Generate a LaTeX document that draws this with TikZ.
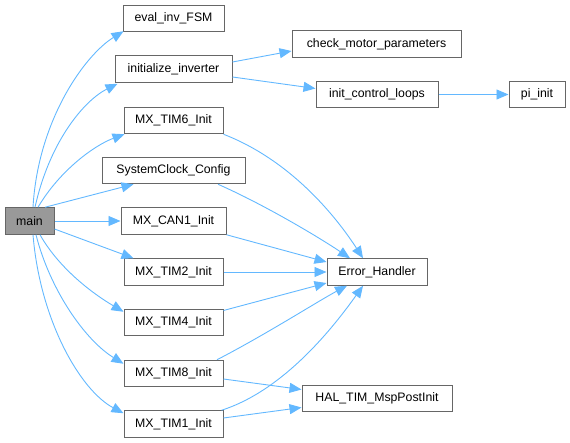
\documentclass[tikz,border=0pt]{standalone}
\usepackage{fontspec}
\setmainfont{Liberation Sans}
\usetikzlibrary{arrows.meta}
\definecolor{edgec}{HTML}{63B8FF}
\definecolor{boxline}{HTML}{666666}
\definecolor{mainfill}{HTML}{999999}
\begin{document}
\begin{tikzpicture}[x=1pt,y=-1pt,
  fn/.style={draw=boxline, line width=1pt, fill=white, minimum height=26.5pt, inner sep=0pt, font=\fontsize{12.3}{14}\selectfont, text=black},
  mainbox/.style={fn, fill=mainfill},
  call/.style={draw=edgec, line width=0.9pt, -{Triangle[length=12pt,width=10pt]}, fill=none},
]
\useasboundingbox (0,0) rectangle (570,443);
\node[mainbox, minimum width=49pt] (main) at (29.5,221) {main};
\node[fn, minimum width=101pt] (eval) at (173.5,18.5) {eval\_inv\_FSM};
\node[fn, minimum width=117pt] (initinv) at (173.5,69) {initialize\_inverter};
\node[fn, minimum width=99pt] (tim6) at (173.5,120.5) {MX\_TIM6\_Init};
\node[fn, minimum width=143pt] (sysclk) at (173.5,170.5) {SystemClock\_Config};
\node[fn, minimum width=105pt] (can1) at (173.5,221) {MX\_CAN1\_Init};
\node[fn, minimum width=99pt] (tim2) at (173.5,272) {MX\_TIM2\_Init};
\node[fn, minimum width=99pt] (tim4) at (173.5,322.5) {MX\_TIM4\_Init};
\node[fn, minimum width=99pt] (tim8) at (173.5,373.5) {MX\_TIM8\_Init};
\node[fn, minimum width=99pt] (tim1) at (173.5,424) {MX\_TIM1\_Init};
\node[fn, minimum width=169pt] (check) at (376.5,44) {check\_motor\_parameters};
\node[fn, minimum width=122pt] (icl) at (377,94.5) {init\_control\_loops};
\node[fn, minimum width=56pt] (pi) at (537,94.5) {pi\_init};
\node[fn, minimum width=100pt] (err) at (377,272) {Error\_Handler};
\node[fn, minimum width=150pt] (hal) at (377,398.5) {HAL\_TIM\_MspPostInit};

% main calls
\draw[call] ([xshift=3.5pt]main.north) .. controls (38,120) and (85,55) .. ([xshift=1pt,yshift=1pt]eval.south west);
\draw[call] ([xshift=5.5pt]main.north) .. controls (50,140) and (85,100) .. ([xshift=3pt,yshift=-1pt]initinv.south west);
\draw[call] ([xshift=8.5pt]main.north) .. controls (60,170) and (95,145) .. ([xshift=1pt]tim6.south west);
\draw[call] ([xshift=15.5pt]main.north) -- ([xshift=-40pt]sysclk.south);
\draw[call] (main.east) -- (can1.west);
\draw[call] ([yshift=-8pt]main.east) -- ([xshift=-40pt]tim2.north);
\draw[call] ([xshift=10.5pt]main.south) .. controls (60,270) and (95,295) .. ([yshift=-3pt]tim4.north west);
\draw[call] ([xshift=6.5pt]main.south) .. controls (50,290) and (85,340) .. ([yshift=-4pt]tim8.north west);
\draw[call] ([xshift=3.5pt]main.south) .. controls (40,320) and (80,390) .. ([yshift=-3pt]tim1.north west);

% second level
\draw[call] ([yshift=7pt]initinv.east) -- ([yshift=-7pt]check.west);
\draw[call] ([yshift=-8pt]initinv.east) -- ([yshift=6pt]icl.west);
\draw[call] (icl.east) -- (pi.west);

\draw[call] (tim6.south east) .. controls (290,160) and (335,215) .. ([xshift=-14pt]err.north);
\draw[call] ([xshift=44.5pt]sysclk.south) .. controls (265,205) and (320,238) .. ([xshift=-27pt]err.north);
\draw[call] (can1.south east) -- ([yshift=10pt]err.west);
\draw[call] (tim2.east) -- (err.west);
\draw[call] ([yshift=12pt]tim4.east) -- ([yshift=-11pt]err.west);
\draw[call] ([xshift=43.5pt]tim8.north) .. controls (265,335) and (320,300) .. ([xshift=-30pt]err.south);
\draw[call] ([xshift=48pt]tim1.north) .. controls (285,390) and (335,325) .. ([xshift=-14pt]err.south);
\draw[call] ([yshift=-5.5pt]tim8.east) -- ([yshift=9pt]hal.west);
\draw[call] ([yshift=6pt]tim1.east) -- ([yshift=-9pt]hal.west);
\end{tikzpicture}
\end{document}
